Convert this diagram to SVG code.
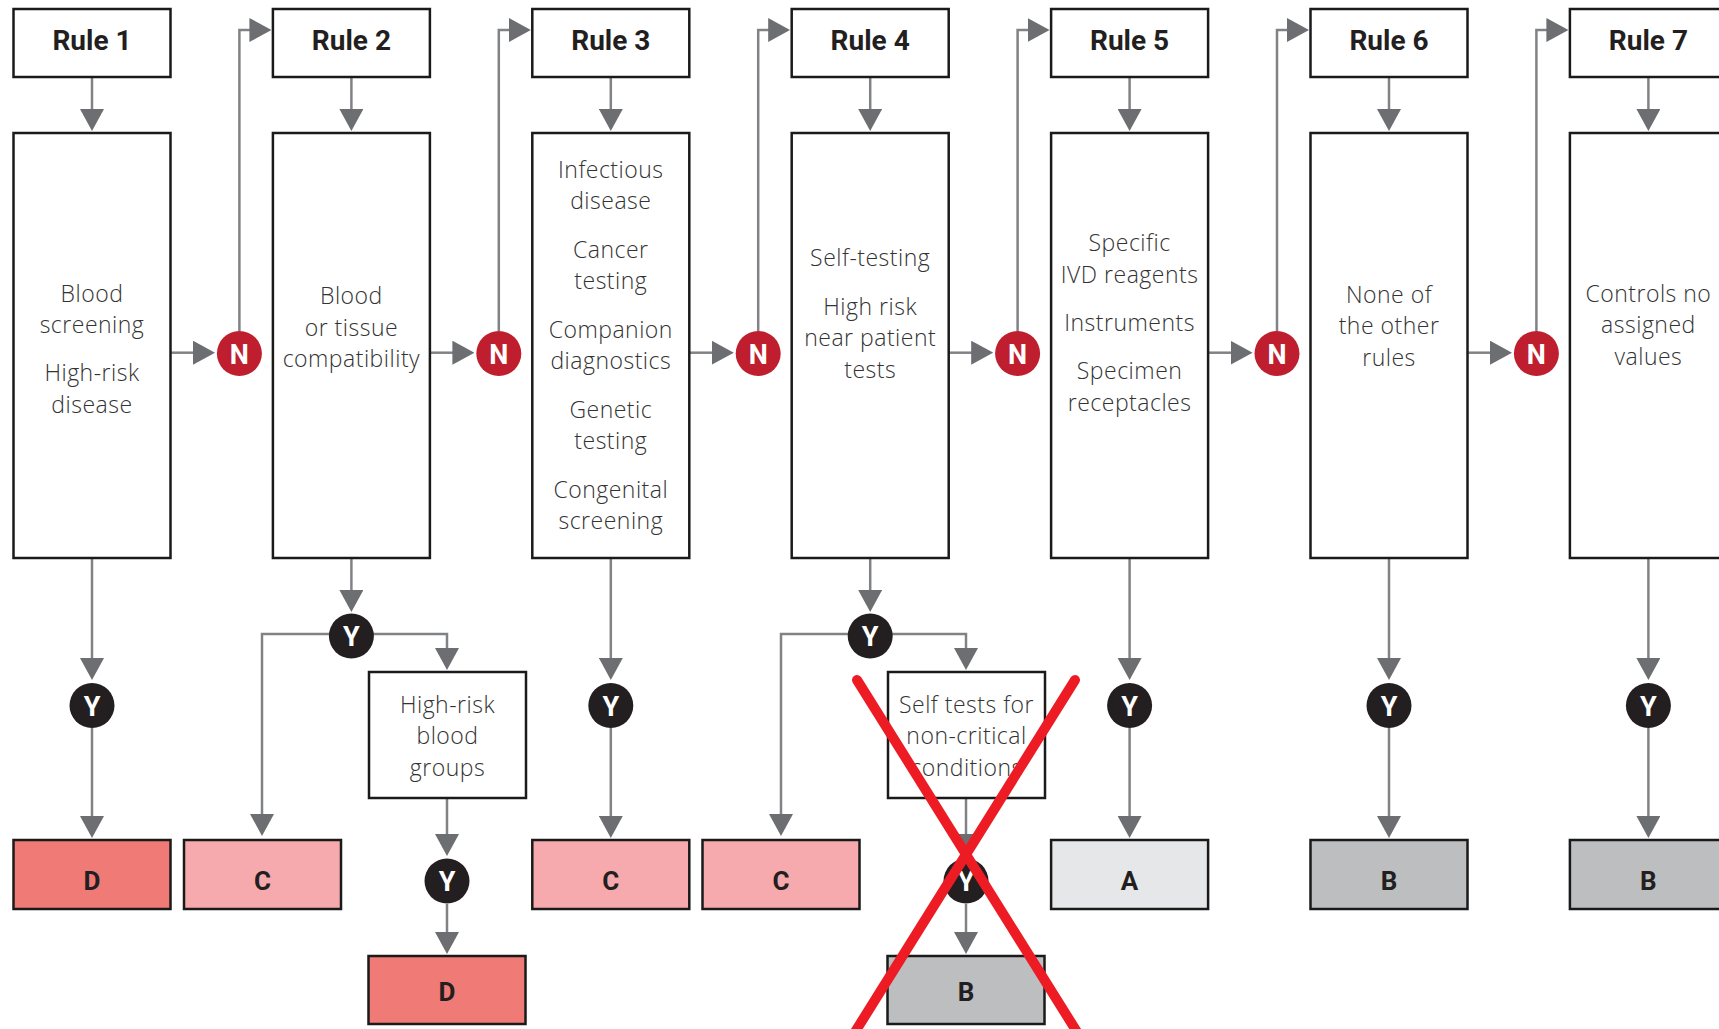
<svg xmlns="http://www.w3.org/2000/svg" width="1719" height="1029" viewBox="0 0 1719 1029">
<defs>
<marker id="ah" markerUnits="userSpaceOnUse" viewBox="0 0 22 24" markerWidth="22" markerHeight="24" refX="1" refY="12" orient="auto">
<path d="M0,0 L22,12 L0,24 z" fill="#6d6e71"/>
</marker>
<style>
.box{fill:#fff;stroke:#1a1a1a;stroke-width:2.5}
.hd{font-family:Roboto,"Liberation Sans",sans-serif;font-weight:700;font-size:28px;fill:#231f20;text-anchor:middle}
.bt{font-family:"Open Sans","Noto Sans",sans-serif;font-weight:300;font-size:23px;letter-spacing:0.5px;fill:#333;text-anchor:middle}
.conn path{fill:none;stroke:#808285;stroke-width:2.5;marker-end:url(#ah)}
.n{fill:#be1e2d}
.y{fill:#231f20}
.ct{font-family:Roboto,"Liberation Sans",sans-serif;font-weight:700;font-size:27px;fill:#fff;text-anchor:middle}
.ot{font-family:Roboto,"Liberation Sans",sans-serif;font-weight:700;font-size:26px;fill:#231f20;text-anchor:middle}
.D{fill:#f07a76;stroke:#1a1a1a;stroke-width:2.5}
.C{fill:#f6aaad;stroke:#1a1a1a;stroke-width:2.5}
.B{fill:#bcbec0;stroke:#1a1a1a;stroke-width:2.5}
.A{fill:#e6e7e8;stroke:#1a1a1a;stroke-width:2.5}
.x{stroke:#ed1c24;stroke-width:10;stroke-linecap:round}
</style>
</defs>
<rect width="1719" height="1029" fill="#fff"/>

<g class="conn" id="connectors">
<!-- header to main -->
<path d="M92,77 V110"/>
<path d="M351.4,77 V110"/>
<path d="M610.8,77 V110"/>
<path d="M870.2,77 V110"/>
<path d="M1129.6,77 V110"/>
<path d="M1389,77 V110"/>
<path d="M1648.4,77 V110"/>
<!-- main to N -->
<path d="M171,352.7 H194"/>
<path d="M430.4,352.7 H453.4"/>
<path d="M689.8,352.7 H712.8"/>
<path d="M949.2,352.7 H972.2"/>
<path d="M1208.6,352.7 H1231.6"/>
<path d="M1468,352.7 H1491"/>
<!-- N to next header -->
<path d="M239.4,331 V30 H250.4"/>
<path d="M498.8,331 V30 H509.8"/>
<path d="M758.2,331 V30 H769.2"/>
<path d="M1017.6,331 V30 H1028.6"/>
<path d="M1277,331 V30 H1288"/>
<path d="M1536.4,331 V30 H1547.4"/>
<!-- simple columns -->
<path d="M92,558 V659"/>
<path d="M92,728 V817"/>
<path d="M610.8,558 V659"/>
<path d="M610.8,728 V817"/>
<path d="M1129.6,558 V659"/>
<path d="M1129.6,728 V817"/>
<path d="M1389,558 V659"/>
<path d="M1389,728 V817"/>
<path d="M1648.4,558 V659"/>
<path d="M1648.4,728 V817"/>
<!-- rule 2 branch -->
<path d="M351.4,558 V591"/>
<path d="M330,634 H262 V815"/>
<path d="M373,634 H447 V649"/>
<path d="M447,798 V835"/>
<path d="M447,904 V933"/>
<!-- rule 4 branch -->
<path d="M870.2,558 V591"/>
<path d="M849,634 H781 V815"/>
<path d="M892,634 H966 V649"/>
<path d="M966,798 V835"/>
<path d="M966,904 V933"/>
</g>

<g id="rule1">
<rect class="box" x="13.5" y="9" width="157" height="68"/>
<text class="hd" x="92" y="50">Rule 1</text>
<rect class="box" x="13.5" y="133" width="157" height="425"/>
<text class="bt" x="92" y="301.5">Blood</text>
<text class="bt" x="92" y="333">screening</text>
<text class="bt" x="92" y="381">High-risk</text>
<text class="bt" x="92" y="412.5">disease</text>
</g>
<g id="rule2">
<rect class="box" x="272.9" y="9" width="157" height="68"/>
<text class="hd" x="351.4" y="50">Rule 2</text>
<rect class="box" x="272.9" y="133" width="157" height="425"/>
<text class="bt" x="351.4" y="304">Blood</text>
<text class="bt" x="351.4" y="335.5">or tissue</text>
<text class="bt" x="351.4" y="367">compatibility</text>
</g>
<g id="rule3">
<rect class="box" x="532.3" y="9" width="157" height="68"/>
<text class="hd" x="610.8" y="50">Rule 3</text>
<rect class="box" x="532.3" y="133" width="157" height="425"/>
<text class="bt" x="610.8" y="177.5">Infectious</text>
<text class="bt" x="610.8" y="209">disease</text>
<text class="bt" x="610.8" y="257.5">Cancer</text>
<text class="bt" x="610.8" y="289">testing</text>
<text class="bt" x="610.8" y="337.5">Companion</text>
<text class="bt" x="610.8" y="369">diagnostics</text>
<text class="bt" x="610.8" y="417.5">Genetic</text>
<text class="bt" x="610.8" y="449">testing</text>
<text class="bt" x="610.8" y="497.5">Congenital</text>
<text class="bt" x="610.8" y="529">screening</text>
</g>
<g id="rule4">
<rect class="box" x="791.7" y="9" width="157" height="68"/>
<text class="hd" x="870.2" y="50">Rule 4</text>
<rect class="box" x="791.7" y="133" width="157" height="425"/>
<text class="bt" x="870.2" y="266">Self-testing</text>
<text class="bt" x="870.2" y="314.5">High risk</text>
<text class="bt" x="870.2" y="346">near patient</text>
<text class="bt" x="870.2" y="378">tests</text>
</g>
<g id="rule5">
<rect class="box" x="1051.1" y="9" width="157" height="68"/>
<text class="hd" x="1129.6" y="50">Rule 5</text>
<rect class="box" x="1051.1" y="133" width="157" height="425"/>
<text class="bt" x="1129.6" y="251">Specific</text>
<text class="bt" x="1129.6" y="282.5">IVD reagents</text>
<text class="bt" x="1129.6" y="331">Instruments</text>
<text class="bt" x="1129.6" y="379">Specimen</text>
<text class="bt" x="1129.6" y="410.5">receptacles</text>
</g>
<g id="rule6">
<rect class="box" x="1310.5" y="9" width="157" height="68"/>
<text class="hd" x="1389" y="50">Rule 6</text>
<rect class="box" x="1310.5" y="133" width="157" height="425"/>
<text class="bt" x="1389" y="302.5">None of</text>
<text class="bt" x="1389" y="334">the other</text>
<text class="bt" x="1389" y="366">rules</text>
</g>
<g id="rule7">
<rect class="box" x="1569.9" y="9" width="157" height="68"/>
<text class="hd" x="1648.4" y="50">Rule 7</text>
<rect class="box" x="1569.9" y="133" width="157" height="425"/>
<text class="bt" x="1648.4" y="301.5">Controls no</text>
<text class="bt" x="1648.4" y="333">assigned</text>
<text class="bt" x="1648.4" y="365">values</text>
</g>

<g id="n-nodes">
<g id="n1"><circle class="n" cx="239.4" cy="353.5" r="22.5"/><text class="ct" x="239.4" y="363.5">N</text></g>
<g id="n2"><circle class="n" cx="498.8" cy="353.5" r="22.5"/><text class="ct" x="498.8" y="363.5">N</text></g>
<g id="n3"><circle class="n" cx="758.2" cy="353.5" r="22.5"/><text class="ct" x="758.2" y="363.5">N</text></g>
<g id="n4"><circle class="n" cx="1017.6" cy="353.5" r="22.5"/><text class="ct" x="1017.6" y="363.5">N</text></g>
<g id="n5"><circle class="n" cx="1277" cy="353.5" r="22.5"/><text class="ct" x="1277" y="363.5">N</text></g>
<g id="n6"><circle class="n" cx="1536.4" cy="353.5" r="22.5"/><text class="ct" x="1536.4" y="363.5">N</text></g>
</g>

<g id="y-nodes">
<g id="y1"><circle class="y" cx="92" cy="705.5" r="22.5"/><text class="ct" x="92" y="715.5">Y</text></g>
<g id="y2a"><circle class="y" cx="351.4" cy="636" r="22.5"/><text class="ct" x="351.4" y="646">Y</text></g>
<g id="y2b"><circle class="y" cx="447" cy="881" r="22.5"/><text class="ct" x="447" y="891">Y</text></g>
<g id="y3"><circle class="y" cx="610.8" cy="705.5" r="22.5"/><text class="ct" x="610.8" y="715.5">Y</text></g>
<g id="y4a"><circle class="y" cx="870.2" cy="636" r="22.5"/><text class="ct" x="870.2" y="646">Y</text></g>
<g id="y4b"><circle class="y" cx="966" cy="881" r="22.5"/><text class="ct" x="966" y="891">Y</text></g>
<g id="y5"><circle class="y" cx="1129.6" cy="705.5" r="22.5"/><text class="ct" x="1129.6" y="715.5">Y</text></g>
<g id="y6"><circle class="y" cx="1389" cy="705.5" r="22.5"/><text class="ct" x="1389" y="715.5">Y</text></g>
<g id="y7"><circle class="y" cx="1648.4" cy="705.5" r="22.5"/><text class="ct" x="1648.4" y="715.5">Y</text></g>
</g>

<g id="high-risk-blood-groups">
<rect class="box" x="369" y="672" width="157" height="126"/>
<text class="bt" x="447.5" y="712.5">High-risk</text>
<text class="bt" x="447.5" y="744">blood</text>
<text class="bt" x="447.5" y="775.5">groups</text>
</g>
<g id="self-tests">
<rect class="box" x="888" y="672" width="157" height="126"/>
<text class="bt" x="966.5" y="712.5">Self tests for</text>
<text class="bt" x="966.5" y="744">non-critical</text>
<text class="bt" x="966.5" y="775.5">conditions</text>
</g>

<g id="outcomes">
<g id="o1"><rect class="D" x="13.5" y="840" width="157" height="69"/><text class="ot" x="92" y="890">D</text></g>
<g id="o2c"><rect class="C" x="184" y="840" width="157" height="69"/><text class="ot" x="262.5" y="890">C</text></g>
<g id="o2d"><rect class="D" x="368.5" y="956" width="157" height="68"/><text class="ot" x="447" y="1001">D</text></g>
<g id="o3"><rect class="C" x="532.3" y="840" width="157" height="69"/><text class="ot" x="610.8" y="890">C</text></g>
<g id="o4c"><rect class="C" x="702.5" y="840" width="157" height="69"/><text class="ot" x="781" y="890">C</text></g>
<g id="o4b"><rect class="B" x="887.5" y="956" width="157" height="68"/><text class="ot" x="966" y="1001">B</text></g>
<g id="o5"><rect class="A" x="1051.1" y="840" width="157" height="69"/><text class="ot" x="1129.6" y="890">A</text></g>
<g id="o6"><rect class="B" x="1310.5" y="840" width="157" height="69"/><text class="ot" x="1389" y="890">B</text></g>
<g id="o7"><rect class="B" x="1569.9" y="840" width="157" height="69"/><text class="ot" x="1648.4" y="890">B</text></g>
</g>

<g id="cross">
<line class="x" x1="857" y1="680" x2="1077" y2="1032"/>
<line class="x" x1="1075" y1="680" x2="855" y2="1032"/>
</g>
</svg>
